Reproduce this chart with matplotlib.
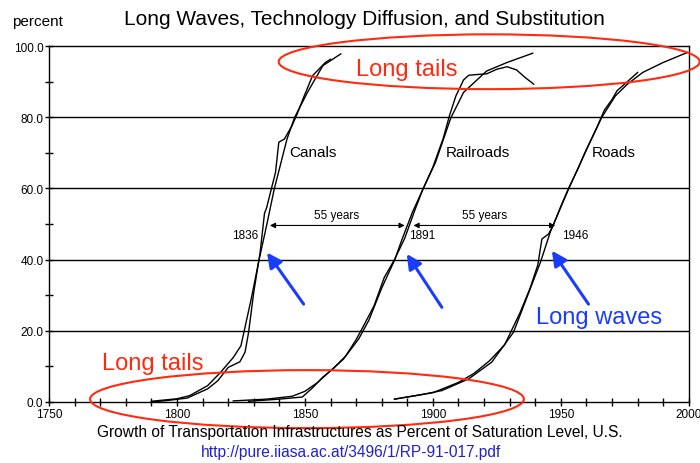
import matplotlib
matplotlib.use("Agg")
from matplotlib import pyplot as plt
from matplotlib.patches import Ellipse
from matplotlib.ticker import MultipleLocator, FormatStrFormatter

plt.rcParams['font.family'] = ['Liberation Sans', 'DejaVu Sans']

# Canals
canal_fit_year = [1790, 1800, 1805, 1812, 1817, 1822, 1825, 1829, 1832, 1835, 1838, 1843, 1846, 1851, 1857, 1864]
canal_fit_pct = [0.2, 0.9, 1.8, 4.6, 8.3, 12.5, 15.8, 28.9, 39.7, 49.5, 59.8, 73.9, 80.0, 87.0, 94.5, 97.8]
canal_data_year = [1790, 1796, 1804, 1812, 1816, 1820, 1824.6, 1826.6, 1828, 1830, 1832.5, 1834.2, 1835, 1838.5,
                   1839.8, 1842, 1845, 1847, 1849.5, 1853, 1858, 1860]
canal_data_pct = [0.0, 0.4, 1.1, 3.7, 6.0, 9.7, 11.3, 14.0, 19.6, 30.8, 42.0, 53.0, 54.5, 64.5,
                  73.0, 73.9, 77.7, 81.0, 85.6, 91.7, 95.4, 96.3]

# Railroads
rail_fit_year = [1822, 1835, 1845, 1850, 1855, 1860, 1865, 1871, 1875, 1880, 1885, 1888, 1892, 1896,
                 1901, 1907, 1912, 1921, 1929, 1939]
rail_fit_pct = [0.3, 0.8, 1.6, 3.0, 5.5, 8.8, 12.0, 17.7, 23.0, 32.0, 39.8, 45.8, 53.3, 59.6,
                67.3, 79.8, 87.0, 93.0, 95.4, 98.0]
rail_data_year = [1828, 1840, 1849, 1853, 1857, 1861, 1866, 1870, 1873, 1877, 1881, 1885, 1889, 1891,
                  1893, 1896, 1900, 1904, 1906.5, 1909, 1912, 1914, 1917, 1921, 1925, 1929, 1932.7, 1936, 1939.4]
rail_data_pct = [0.2, 0.8, 1.4, 4.0, 7.0, 9.3, 13.0, 17.5, 21.5, 27.0, 35.0, 40.0, 46.0, 50.0,
                 54.0, 59.6, 66.0, 74.0, 80.5, 86.0, 90.5, 91.8, 92.0, 92.2, 93.5, 94.2, 93.3, 91.2, 89.3]

# Roads
road_fit_year = [1885, 1895, 1903.5, 1914, 1923, 1931.5, 1936, 1940, 1942, 1946, 1953, 1959.5, 1966,
                 1971.3, 1976, 1982, 1990, 1999.4]
road_fit_pct = [0.8, 2.0, 3.2, 6.5, 11.2, 19.6, 28.0, 35.5, 39.2, 48.0, 59.8, 70.1, 80.0,
                86.0, 89.3, 92.6, 95.4, 98.2]
road_data_year = [1885, 1900, 1910, 1916, 1922, 1928, 1931, 1934, 1938, 1941, 1942.6, 1945.2, 1947,
                  1950, 1953, 1957, 1960, 1964, 1967, 1970, 1972, 1976, 1980]
road_data_pct = [0.8, 2.6, 5.5, 8.0, 11.5, 16.0, 20.5, 25.0, 32.0, 38.5, 45.8, 47.2, 49.6,
                 55.0, 60.0, 66.0, 71.0, 77.0, 82.0, 85.0, 87.5, 90.0, 92.6]

midpoint_years = [1836, 1891, 1946]
gap_label = "55 years"

fig = plt.figure(figsize=(7, 4.64), dpi=100)
ax = fig.add_axes([0.07, 0.1315, 0.914, 0.767])

for yr, pc in [(canal_fit_year, canal_fit_pct), (canal_data_year, canal_data_pct),
               (rail_fit_year, rail_fit_pct), (rail_data_year, rail_data_pct),
               (road_fit_year, road_fit_pct), (road_data_year, road_data_pct)]:
    ax.plot(yr, pc, color="black", lw=1.0)

ax.set_xlim(1750, 2000)
ax.set_ylim(0, 100)
ax.xaxis.set_major_locator(MultipleLocator(50))
ax.xaxis.set_minor_locator(MultipleLocator(10))
ax.yaxis.set_major_locator(MultipleLocator(20))
ax.yaxis.set_minor_locator(MultipleLocator(10))
ax.yaxis.set_major_formatter(FormatStrFormatter("%.1f"))
ax.tick_params(which="both", direction="inout", length=6, width=1, labelsize=8.5, pad=1)
for s in ax.spines.values():
    s.set_linewidth(1.0)
for g in [20, 40, 60, 80]:
    ax.axhline(g, color="black", lw=1.0)

# curve labels
ax.text(1844, 69, "Canals", fontsize=11)
ax.text(1905, 69, "Railroads", fontsize=11)
ax.text(1962, 69, "Roads", fontsize=11)

# 55-year arrows
ax.annotate("", xy=(1889, 49.6), xytext=(1836.3, 49.6),
            arrowprops=dict(arrowstyle="<|-|>", color="black", lw=0.8, mutation_scale=8, shrinkA=0, shrinkB=0))
ax.annotate("", xy=(1947.8, 49.6), xytext=(1892.4, 49.6),
            arrowprops=dict(arrowstyle="<|-|>", color="black", lw=0.8, mutation_scale=8, shrinkA=0, shrinkB=0))
ax.text(1862.5, 52.5, gap_label, fontsize=8.5, ha="center", va="center")
ax.text(1920, 52.5, gap_label, fontsize=8.5, ha="center", va="center")
for yr, xl in zip(midpoint_years, [1826.7, 1895.7, 1955.6]):
    ax.text(xl, 46.8, str(yr), fontsize=8.5, ha="center", va="center")

# blue arrows
blue = "#1a3cff"
for tail, head in [((1849.5, 27.5), (1835.2, 42.0)),
                   ((1903.5, 26.6), (1889.8, 41.6)),
                   ((1960.8, 27.5), (1946.5, 42.5))]:
    ax.annotate("", xy=head, xytext=tail,
                arrowprops=dict(arrowstyle="-|>", color=blue, lw=2.2, mutation_scale=22, shrinkA=0, shrinkB=0))
ax.text(1940.2, 23.9, "Long waves", color=blue, fontsize=17, va="center")

# red ellipses
red = "#ff2a10"
ax.add_patch(Ellipse((1922, 95.6), 164.5, 15.4, fill=False, edgecolor=red, lw=1.5, clip_on=False, zorder=5))
ax.add_patch(Ellipse((1850.8, 0.8), 169.5, 16.3, fill=False, edgecolor=red, lw=1.5, clip_on=False, zorder=5))
ax.text(1869.9, 93.5, "Long tails", color=red, fontsize=17, va="center")
ax.text(1770.7, 11.0, "Long tails", color=red, fontsize=17, va="center")

fig.text(0.52, 0.957, "Long Waves, Technology Diffusion, and Substitution", fontsize=15, ha="center", va="center")
fig.text(0.017, 0.953, "percent", fontsize=11, ha="left", va="center")
fig.text(0.514, 0.067, "Growth of Transportation Infrastructures as Percent of Saturation Level, U.S.",
         fontsize=11.2, ha="center", va="center")
fig.text(0.502, 0.024, "http://pure.iiasa.ac.at/3496/1/RP-91-017.pdf", fontsize=11.2, color="#2222cc",
         ha="center", va="center")

fig.savefig("out.png", dpi=100)
